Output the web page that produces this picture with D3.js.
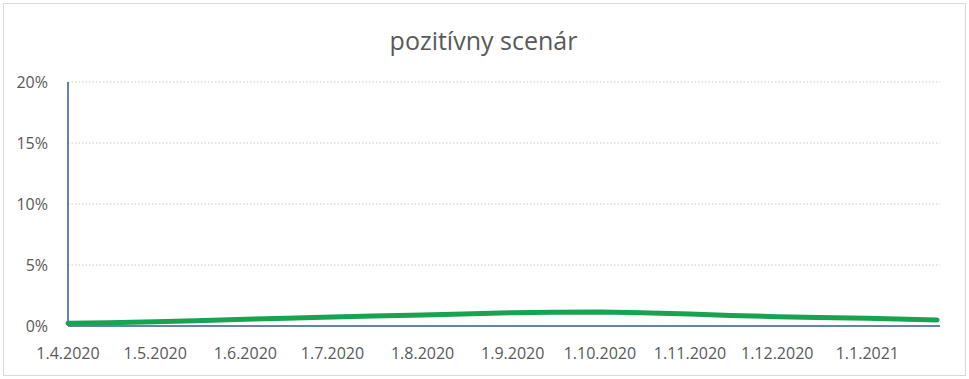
<!DOCTYPE html>
<html>
<head>
<meta charset="utf-8">
<script src="https://cdn.jsdelivr.net/npm/d3@7"></script>
<style>
  body { margin: 0; background: #fff; }
  text { font-family: "Open Sans", "Liberation Sans", sans-serif; fill: #595959; }
</style>
</head>
<body>
<div id="chart"></div>
<script>
// data (share, 0..1)
const dates = ["2020-04-01", "2020-04-15", "2020-05-01", "2020-05-15", "2020-06-01", "2020-06-15",
  "2020-07-01", "2020-07-15", "2020-08-01", "2020-08-15", "2020-09-01", "2020-09-15",
  "2020-10-01", "2020-10-15", "2020-11-01", "2020-11-15", "2020-12-01", "2020-12-15",
  "2021-01-01", "2021-01-25"];
const values = [0.0022, 0.0027, 0.0035, 0.0044, 0.0055, 0.0064,
  0.0074, 0.0082, 0.0090, 0.0099, 0.0109, 0.0113,
  0.0115, 0.0108, 0.0098, 0.0087, 0.0076, 0.0070,
  0.0063, 0.0049];
const tickDates = ["2020-04-01", "2020-05-01", "2020-06-01", "2020-07-01", "2020-08-01",
  "2020-09-01", "2020-10-01", "2020-11-01", "2020-12-01", "2021-01-01"];
const yTicks = [0, 0.05, 0.10, 0.15, 0.20];
const title = "pozitívny scenár";

const W = 969, H = 379;
const margin = { top: 82, right: 29, bottom: 53, left: 68 };
const parse = d3.timeParse("%Y-%m-%d");

const svg = d3.select("#chart").append("svg")
  .attr("width", W).attr("height", H);

// chart frame
svg.append("rect")
  .attr("x", 3.5).attr("y", 3.5)
  .attr("width", W - 7).attr("height", H - 7)
  .attr("fill", "#fff").attr("stroke", "#d9d9d9");

svg.append("text")
  .attr("x", W / 2 - 1).attr("y", 50)
  .attr("text-anchor", "middle")
  .style("font-size", "25px")
  .text(title);

const x = d3.scaleTime()
  .domain([parse("2020-04-01"), parse("2021-01-26")])
  .range([margin.left, W - margin.right]);
const y = d3.scaleLinear()
  .domain([0, 0.2])
  .range([H - margin.bottom, margin.top]);

// dotted gridlines
svg.append("g").selectAll("line")
  .data(yTicks.filter(d => d > 0))
  .join("line")
  .attr("x1", margin.left).attr("x2", W - margin.right)
  .attr("y1", d => y(d)).attr("y2", d => y(d))
  .attr("stroke", "#c8c8c8").attr("stroke-dasharray", "1.5,2");

// y labels
svg.append("g").selectAll("text")
  .data(yTicks)
  .join("text")
  .attr("x", 48).attr("y", d => y(d))
  .attr("dy", "0.35em")
  .attr("text-anchor", "end")
  .style("font-size", "16px")
  .text(d => d3.format(".0%")(d));

// x labels
svg.append("g").selectAll("text")
  .data(tickDates.map(parse))
  .join("text")
  .attr("x", d => x(d)).attr("y", 359)
  .attr("text-anchor", "middle")
  .style("font-size", "16px")
  .text(d => d3.timeFormat("%-d.%-m.%Y")(d));

// axes lines
svg.append("line")
  .attr("x1", margin.left).attr("x2", W - margin.right)
  .attr("y1", y(0)).attr("y2", y(0))
  .attr("stroke", "#2e5a8f").attr("stroke-width", 1.5);
svg.append("line")
  .attr("x1", margin.left).attr("x2", margin.left)
  .attr("y1", y(0.2)).attr("y2", y(0))
  .attr("stroke", "#2e5a8f").attr("stroke-width", 1.5);

// series
const series = dates.map((d, i) => ({ date: parse(d), value: values[i] }));
svg.append("path")
  .datum(series)
  .attr("fill", "none")
  .attr("stroke", "#17a34f")
  .attr("stroke-width", 5)
  .attr("stroke-linecap", "round")
  .attr("d", d3.line().x(d => x(d.date)).y(d => y(d.value)));
</script>
</body>
</html>
